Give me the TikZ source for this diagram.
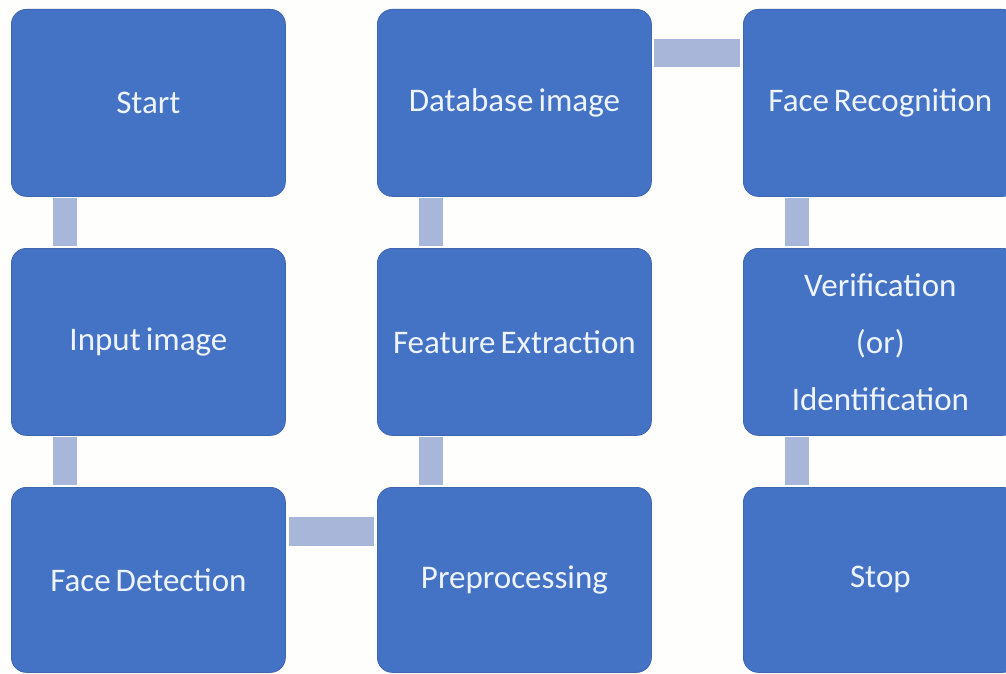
\documentclass[tikz,border=0pt]{standalone}
\usepackage{fontspec}
\setmainfont{Carlito}
\usetikzlibrary{calc}
\definecolor{boxblue}{HTML}{4472C4}
\definecolor{boxedge}{HTML}{3F66B0}
\definecolor{linkgrey}{HTML}{A8B6D9}
\definecolor{txtcol}{HTML}{EEF4FB}
\definecolor{bgcol}{HTML}{FEFEFC}
\newcommand{\boxfont}{\fontsize{33}{57}\selectfont\spaceskip=5pt plus 1pt\relax}
\tikzset{
  stepbox/.style={rectangle, rounded corners=15pt, fill=boxblue, draw=boxedge, line width=0.8pt,
    minimum width=274pt, minimum height=187pt, inner sep=0pt, anchor=north west,
    text=txtcol, align=center, font=\boxfont},
  linkbar/.style={fill=linkgrey}
}
\begin{document}
\begin{tikzpicture}[x=1pt,y=-1pt]
\useasboundingbox (0,0) rectangle (1006,674);
\fill[bgcol] (0,0) rectangle (1006,674);
\clip (0,0) rectangle (1006,674);
% column 1
\node[stepbox] (start) at (11,9) {Start};
\node[stepbox] (input) at (11,248) {Input image};
\node[stepbox, minimum height=185pt] (detect) at (11,487) {Face Detection};
% column 2
\node[stepbox] (db) at (377,9) {Database image};
\node[stepbox] (feat) at (377,248) {Feature Extraction};
\node[stepbox, minimum height=185pt] (pre) at (377,487) {Preprocessing};
% column 3
\node[stepbox] (recog) at (743,9) {Face Recognition};
\node[stepbox] (verif) at (743,248) {Verification\\(or)\\Identification};
\node[stepbox, minimum height=185pt] (stop) at (743,487) {Stop};
% vertical connectors
\fill[linkbar] ($(start.south west)+(42,1)$) rectangle ($(input.north west)+(66,-2)$);
\fill[linkbar] ($(input.south west)+(42,1)$) rectangle ($(detect.north west)+(66,-2)$);
\fill[linkbar] ($(pre.north west)+(42,-2)$) rectangle ($(feat.south west)+(66,1)$);
\fill[linkbar] ($(feat.north west)+(42,-2)$) rectangle ($(db.south west)+(66,1)$);
\fill[linkbar] ($(recog.south west)+(42,1)$) rectangle ($(verif.north west)+(66,-2)$);
\fill[linkbar] ($(verif.south west)+(42,1)$) rectangle ($(stop.north west)+(66,-2)$);
% horizontal connectors
\fill[linkbar] ($(detect.north east)+(3,30)$) rectangle ($(pre.north west)+(-3,59)$);
\fill[linkbar] ($(db.north east)+(2,30)$) rectangle ($(recog.north west)+(-3,58)$);
\end{tikzpicture}
\end{document}
